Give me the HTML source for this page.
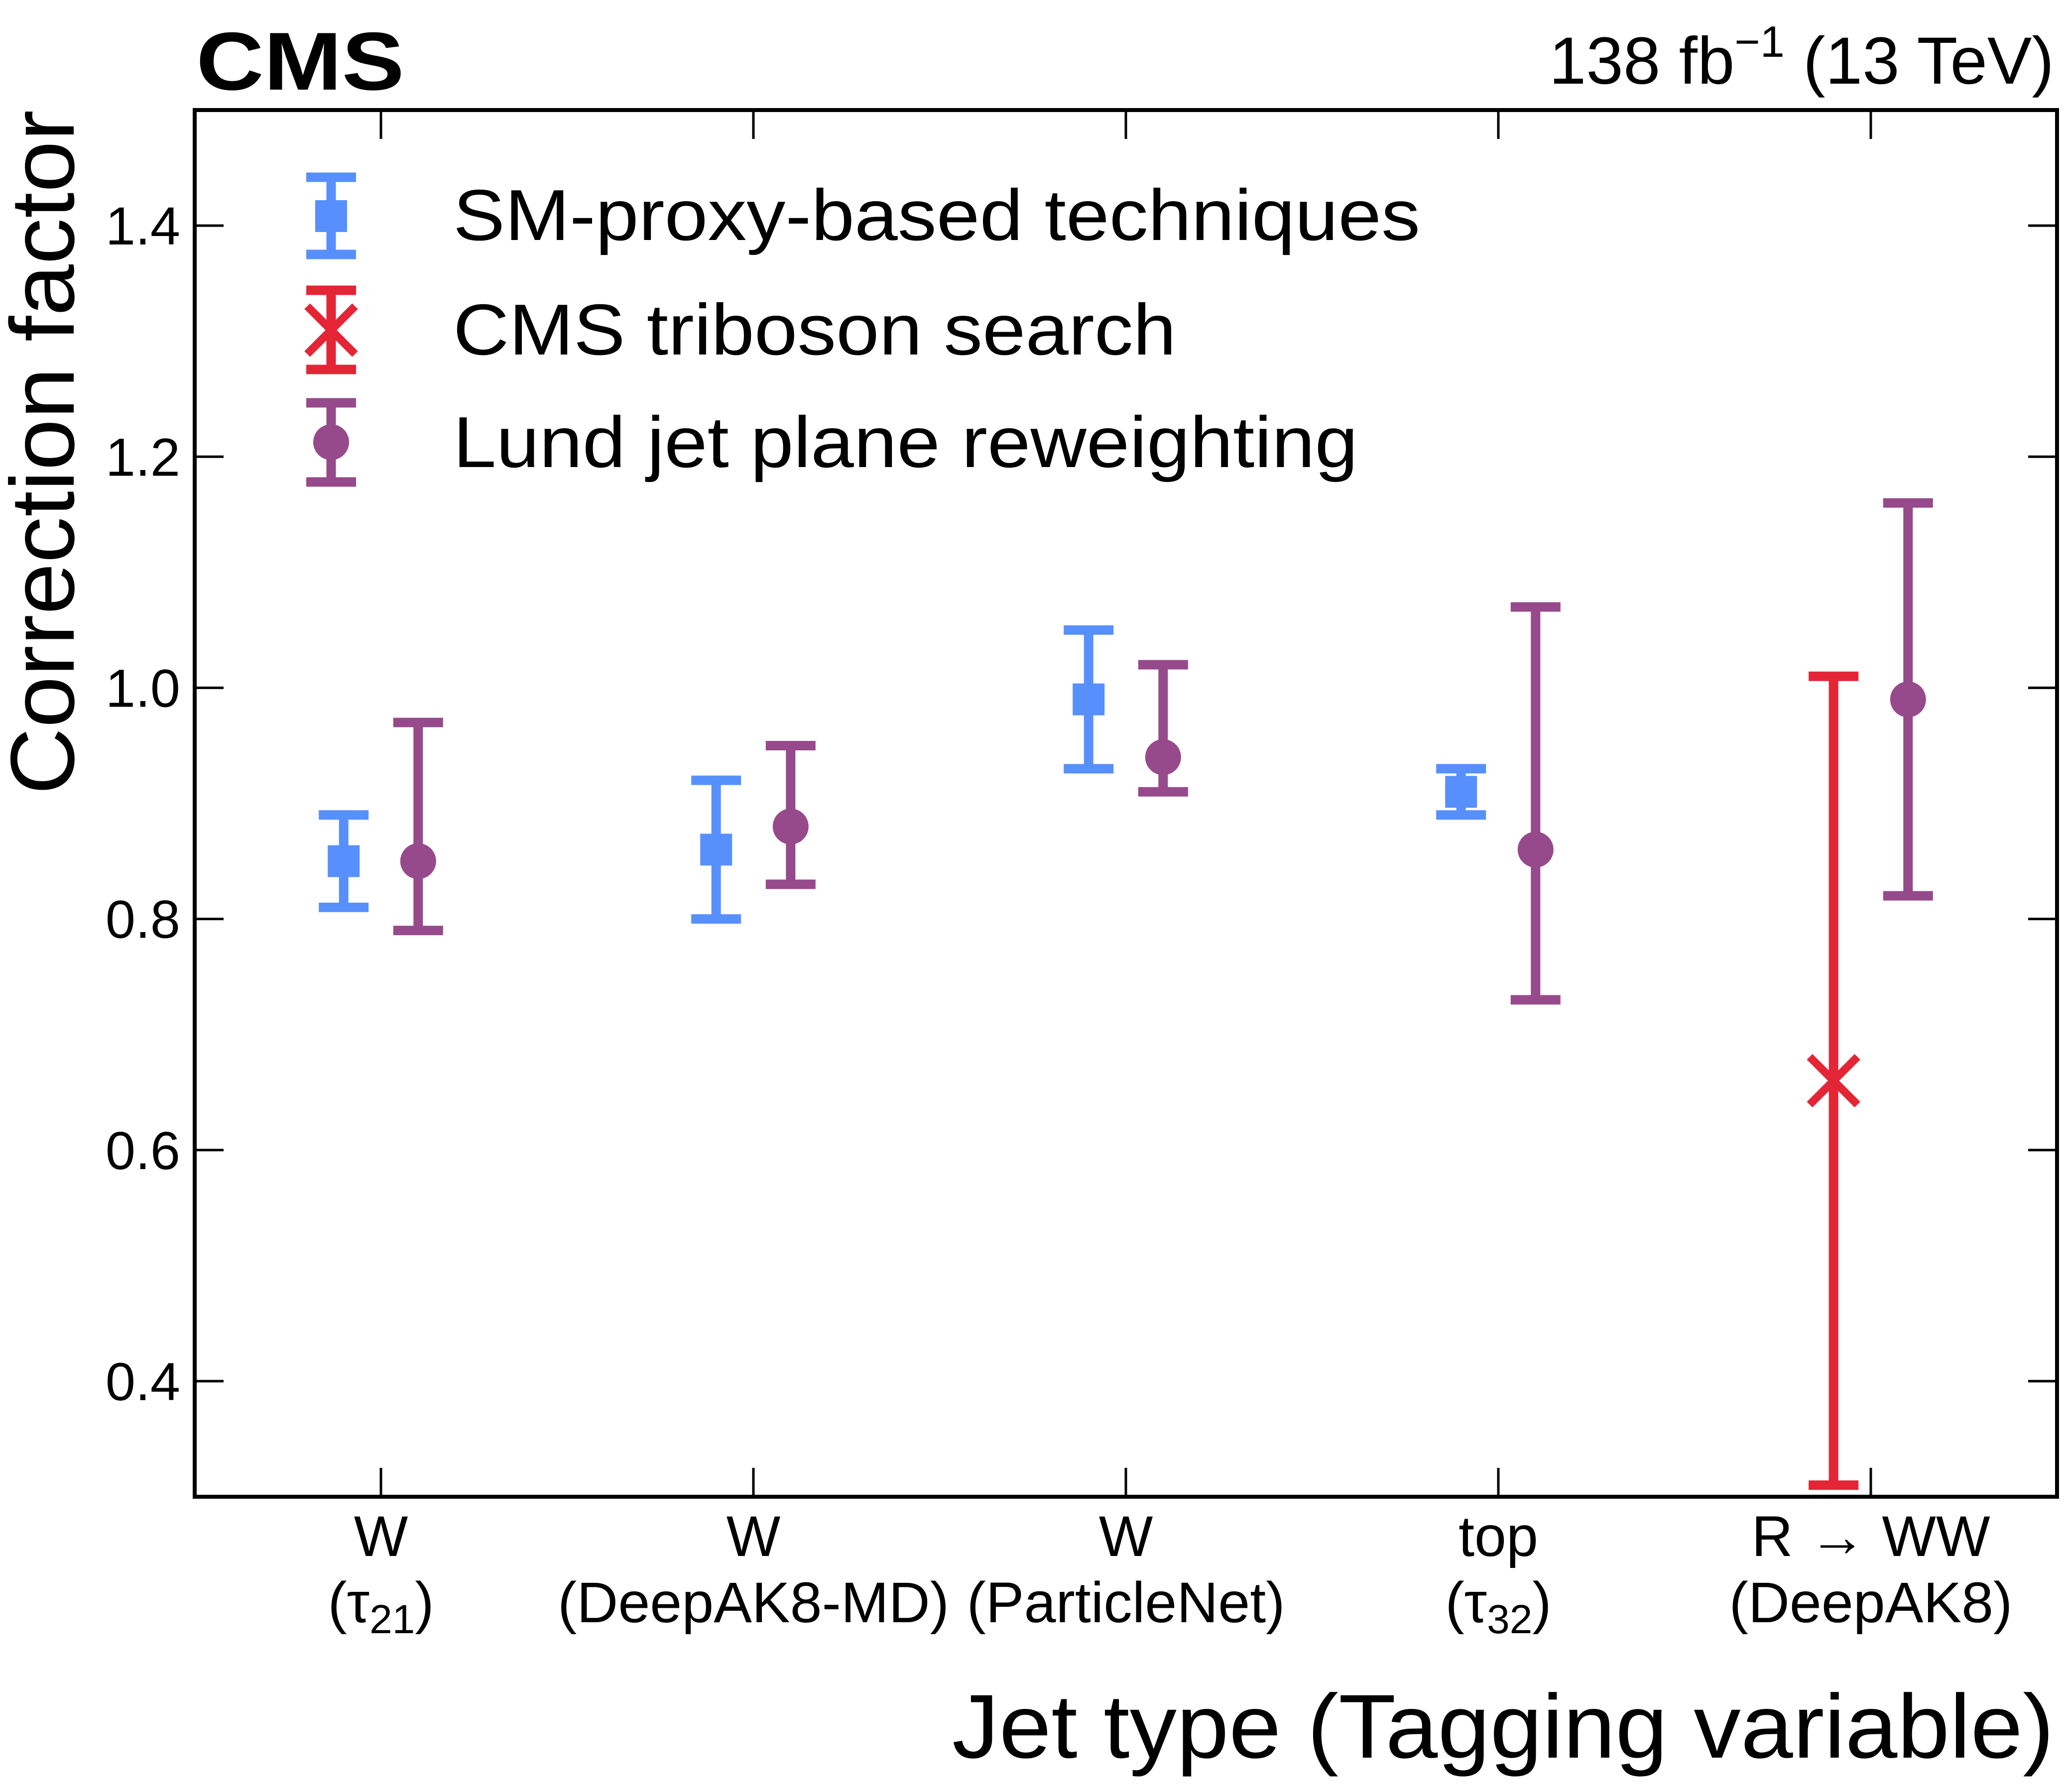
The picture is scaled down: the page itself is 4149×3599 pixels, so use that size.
<!DOCTYPE html>
<html><head><meta charset="utf-8"><style>
html,body{margin:0;padding:0;background:#fff;}
svg{display:block;font-family:"Liberation Sans",sans-serif;}
</style></head><body>
<svg id="chart" xmlns="http://www.w3.org/2000/svg" width="4149" height="3599" viewBox="0 0 4149 3599">
<rect width="4149" height="3599" fill="#fff"/>
<g id="marks"></g>
<g id="axes"></g>
<rect x="391" y="221" width="3740" height="2785" fill="none" stroke="#000" stroke-width="8"/>
<text x="394" y="180" font-size="165" font-weight="bold" textLength="418" lengthAdjust="spacingAndGlyphs">CMS</text>
<text x="4125" y="168" font-size="134" text-anchor="end">138 fb<tspan dy="-54" font-size="88">−1</tspan><tspan dy="54"> (13 TeV)</tspan></text>
<text transform="translate(148,221) rotate(-90)" font-size="182" text-anchor="end" textLength="1375" lengthAdjust="spacingAndGlyphs">Correction factor</text>
<text x="4125" y="3530" font-size="182" text-anchor="end" textLength="2213" lengthAdjust="spacingAndGlyphs">Jet type (Tagging variable)</text>
<g>
<line x1="665" y1="356" x2="665" y2="511" stroke="#5790fc" stroke-width="19"/>
<line x1="615" y1="356" x2="715" y2="356" stroke="#5790fc" stroke-width="19"/>
<line x1="615" y1="511" x2="715" y2="511" stroke="#5790fc" stroke-width="19"/>
<rect x="633" y="402" width="64" height="64" fill="#5790fc"/>
<text x="910" y="482" font-size="145" textLength="1942" lengthAdjust="spacingAndGlyphs">SM-proxy-based techniques</text>
<line x1="665" y1="583" x2="665" y2="742" stroke="#e42536" stroke-width="19"/>
<line x1="615" y1="583" x2="715" y2="583" stroke="#e42536" stroke-width="19"/>
<line x1="615" y1="742" x2="715" y2="742" stroke="#e42536" stroke-width="19"/>
<path d="M617,615 L713,711 M713,615 L617,711" stroke="#e42536" stroke-width="16"/>
<text x="910" y="712" font-size="145" textLength="1452" lengthAdjust="spacingAndGlyphs">CMS triboson search</text>
<line x1="665" y1="809" x2="665" y2="968" stroke="#964a8b" stroke-width="19"/>
<line x1="615" y1="809" x2="715" y2="809" stroke="#964a8b" stroke-width="19"/>
<line x1="615" y1="968" x2="715" y2="968" stroke="#964a8b" stroke-width="19"/>
<circle cx="665" cy="888" r="36" fill="#964a8b"/>
<text x="910" y="938" font-size="145" textLength="1817" lengthAdjust="spacingAndGlyphs">Lund jet plane reweighting</text>
</g>
</svg>
<script>
const categories = ["W|(τ21)", "W|(DeepAK8-MD)", "W|(ParticleNet)", "top|(τ32)", "R → WW|(DeepAK8)"];
const yTicks = [0.4, 0.6, 0.8, 1.0, 1.2, 1.4];
const yTickLabels = ["0.4", "0.6", "0.8", "1.0", "1.2", "1.4"];
const smCat = [0, 1, 2, 3];
const smVal = [0.85, 0.86, 0.99, 0.91];
const smLo = [0.81, 0.80, 0.93, 0.89];
const smHi = [0.89, 0.92, 1.05, 0.93];
const triCat = [4];
const triVal = [0.66];
const triLo = [0.31];
const triHi = [1.01];
const lundCat = [0, 1, 2, 3, 4];
const lundVal = [0.85, 0.88, 0.94, 0.86, 0.99];
const lundLo = [0.79, 0.83, 0.91, 0.73, 0.82];
const lundHi = [0.97, 0.95, 1.02, 1.07, 1.16];

const X0 = 391, X1 = 4131, Y0 = 3006, Y1 = 221;
const xs = c => X0 + (c + 0.5) / 5 * (X1 - X0);
const ys = v => Y0 - (v - 0.3) / 1.2 * (Y0 - Y1);
const NS = "http://www.w3.org/2000/svg";
function mk(tag, attrs, parent) {
  const e = document.createElementNS(NS, tag);
  for (const k in attrs) e.setAttribute(k, attrs[k]);
  parent.appendChild(e);
  return e;
}
const axes = document.getElementById('axes');
const marks = document.getElementById('marks');
yTicks.forEach((v, i) => {
  const y = ys(v);
  const l1 = mk('line', {x1: X0, y1: y, x2: X0 + 58, y2: y, stroke: '#000', 'stroke-width': 5}, axes);
  
  
  const l2 = mk('line', {x1: X1, y1: y, x2: X1 - 58, y2: y, stroke: '#000', 'stroke-width': 5}, axes);
  
  
  const t = mk('text', {x: 362, y: y + 38, 'font-size': 108, 'text-anchor': 'end'}, axes);
  t.textContent = yTickLabels[i];
  
  
});
categories.forEach((c, i) => {
  const x = xs(i);
  const l1 = mk('line', {x1: x, y1: Y0, x2: x, y2: Y0 - 58, stroke: '#000', 'stroke-width': 5}, axes);
  
  
  const l2 = mk('line', {x1: x, y1: Y1, x2: x, y2: Y1 + 58, stroke: '#000', 'stroke-width': 5}, axes);
  
  
  const parts = c.split('|');
  const t1 = mk('text', {x: x, y: 3125, 'font-size': 115, 'text-anchor': 'middle'}, axes);
  t1.textContent = parts[0];
  
  
  const t2 = mk('text', {x: x, y: 3258, 'font-size': 115, 'text-anchor': 'middle'}, axes);
  const m = parts[1].match(/^\(τ(\d+)\)$/);
  if (m) {
    t2.innerHTML = '(τ<tspan dy="22" font-size="82">' + m[1] + '</tspan><tspan dy="-22">)</tspan>';
  } else t2.textContent = parts[1];
  
  
});
function errbar(cx, lo, hi, color, name) {
  const g = mk('g', {}, marks);
  
  
  mk('line', {x1: cx, y1: ys(lo), x2: cx, y2: ys(hi), stroke: color, 'stroke-width': 19}, g);
  mk('line', {x1: cx - 50, y1: ys(lo), x2: cx + 50, y2: ys(lo), stroke: color, 'stroke-width': 19}, g);
  mk('line', {x1: cx - 50, y1: ys(hi), x2: cx + 50, y2: ys(hi), stroke: color, 'stroke-width': 19}, g);
}
smCat.forEach((c, i) => {
  const cx = xs(c - 0.1);
  errbar(cx, smLo[i], smHi[i], '#5790fc', 'sm-proxy');
  const r = mk('rect', {x: cx - 32, y: ys(smVal[i]) - 32, width: 64, height: 64, fill: '#5790fc'}, marks);
  
  
});
triCat.forEach((c, i) => {
  const cx = xs(c - 0.1), cy = ys(triVal[i]);
  errbar(cx, triLo[i], triHi[i], '#e42536', 'triboson');
  const p = mk('path', {d: `M${cx-48},${cy-48} L${cx+48},${cy+48} M${cx+48},${cy-48} L${cx-48},${cy+48}`, stroke: '#e42536', 'stroke-width': 16}, marks);
  
  
});
lundCat.forEach((c, i) => {
  const cx = xs(c + 0.1);
  errbar(cx, lundLo[i], lundHi[i], '#964a8b', 'lund');
  const p = mk('circle', {cx: cx, cy: ys(lundVal[i]), r: 36, fill: '#964a8b'}, marks);
  
  
});
</script>
</body></html>
